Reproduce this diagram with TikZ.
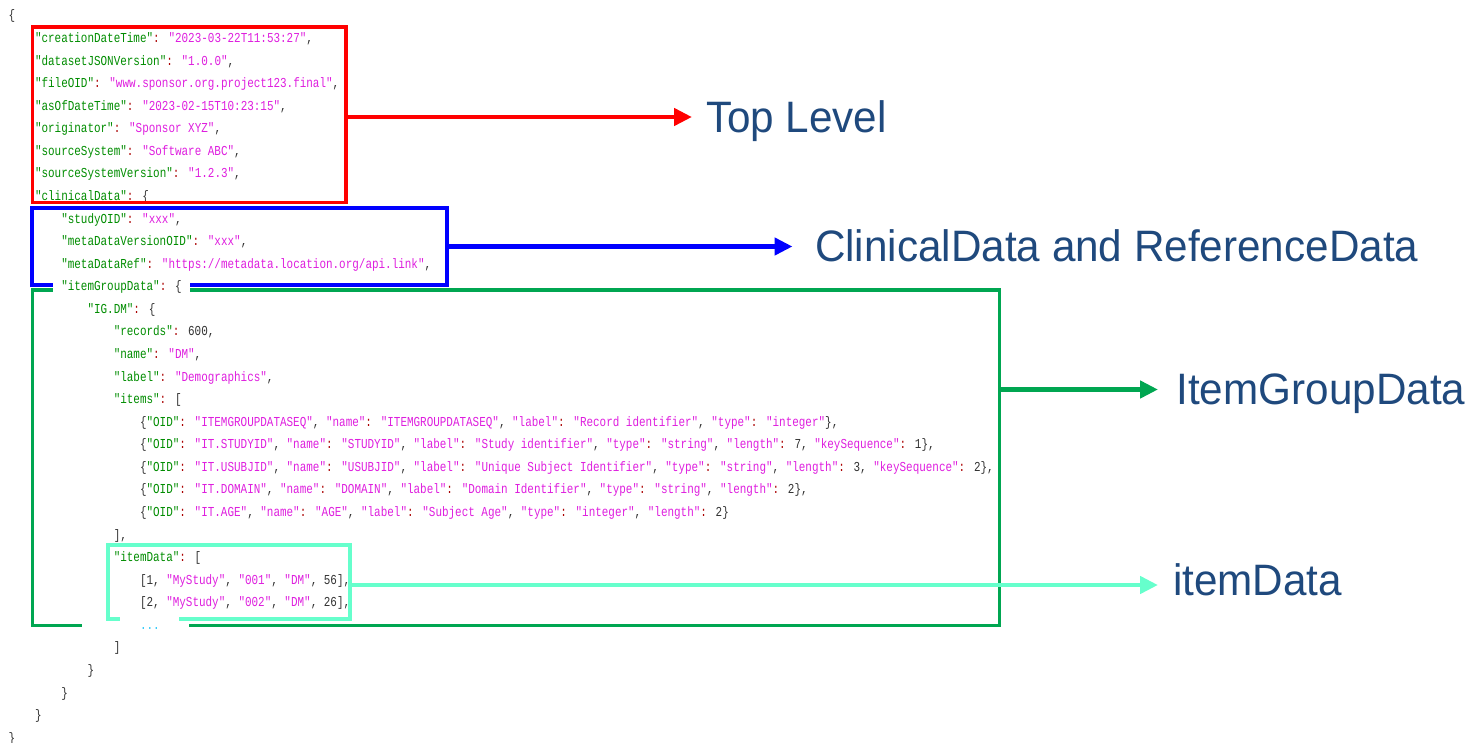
\documentclass[tikz,border=0pt]{standalone}
\usepackage{fontspec}
\setmainfont{Liberation Sans}
\newfontfamily\codefont[FakeStretch=0.8]{Liberation Mono}
\newfontfamily\labelfont[FakeStretch=0.96]{Liberation Sans}
\usetikzlibrary{arrows.meta}
\definecolor{keygreen}{RGB}{0,140,0}
\definecolor{strmag}{RGB}{222,30,222}
\definecolor{coloncol}{RGB}{170,0,0}
\definecolor{punct}{RGB}{50,50,50}
\definecolor{dotcol}{RGB}{40,200,250}
\definecolor{labelblue}{RGB}{31,73,125}
\definecolor{boxred}{RGB}{255,0,0}
\definecolor{boxblue}{RGB}{0,0,255}
\definecolor{boxgreen}{RGB}{0,166,81}
\definecolor{boxcyan}{RGB}{102,255,204}
\newcommand{\jk}[1]{\textcolor{keygreen}{#1}}
\newcommand{\js}[1]{\textcolor{strmag}{#1}}
\newcommand{\jc}{\textcolor{coloncol}{:}}
\tikzset{
  code/.style={anchor=base west, inner sep=0pt, outer sep=0pt,
    font=\codefont\fontsize{13.68}{16}\selectfont, text=punct},
  lbl/.style={anchor=west, inner sep=0pt, outer sep=0pt, text height=30.3pt,
    text depth=0pt, font=\labelfont\fontsize{44}{50}\selectfont, text=labelblue},
  frame/.style={draw, line width=3.8pt, anchor=north west, inner sep=0pt, outer sep=0pt},
  arr/.style={line width=4.5pt, -{Triangle[length=18pt,width=17pt]}}
}
\begin{document}
\begin{tikzpicture}[x=1pt,y=-1pt]
\useasboundingbox (0,0) rectangle (1470,742);
% code lines
\node[code] (l0) at (8.75,19.93) {\{};
\node[code] (l1) at (35,42.5) {\jk{"creationDateTime"}\jc{} \js{"2023-03-22T11:53:27"},};
\node[code] (l2) at (35,65.07) {\jk{"datasetJSONVersion"}\jc{} \js{"1.0.0"},};
\node[code] (l3) at (35,87.64) {\jk{"fileOID"}\jc{} \js{"www.sponsor.org.project123.final"},};
\node[code] (l4) at (35,110.21) {\jk{"asOfDateTime"}\jc{} \js{"2023-02-15T10:23:15"},};
\node[code] (l5) at (35,132.78) {\jk{"originator"}\jc{} \js{"Sponsor XYZ"},};
\node[code] (l6) at (35,155.35) {\jk{"sourceSystem"}\jc{} \js{"Software ABC"},};
\node[code] (l7) at (35,177.92) {\jk{"sourceSystemVersion"}\jc{} \js{"1.2.3"},};
\node[code] (l8) at (35,200.49) {\jk{"clinicalData"}\jc{} \{};
\node[code] (l9) at (61.25,223.06) {\jk{"studyOID"}\jc{} \js{"xxx"},};
\node[code] (l10) at (61.25,245.63) {\jk{"metaDataVersionOID"}\jc{} \js{"xxx"},};
\node[code] (l11) at (61.25,268.2) {\jk{"metaDataRef"}\jc{} \js{"https://metadata.location.org/api.link"},};
\node[code] (l13) at (87.5,313.34) {\jk{"IG.DM"}\jc{} \{};
\node[code] (l14) at (113.75,335.91) {\jk{"records"}\jc{} 600,};
\node[code] (l15) at (113.75,358.48) {\jk{"name"}\jc{} \js{"DM"},};
\node[code] (l16) at (113.75,381.05) {\jk{"label"}\jc{} \js{"Demographics"},};
\node[code] (l17) at (113.75,403.62) {\jk{"items"}\jc{} [};
\node[code] (l18) at (140,426.19) {\{\jk{"OID"}\jc{} \js{"ITEMGROUPDATASEQ"}, \js{"name"}\jc{} \js{"ITEMGROUPDATASEQ"}, \js{"label"}\jc{} \js{"Record identifier"}, \js{"type"}\jc{} \js{"integer"}\},};
\node[code] (l19) at (140,448.76) {\{\jk{"OID"}\jc{} \js{"IT.STUDYID"}, \js{"name"}\jc{} \js{"STUDYID"}, \js{"label"}\jc{} \js{"Study identifier"}, \js{"type"}\jc{} \js{"string"}, \js{"length"}\jc{} 7, \js{"keySequence"}\jc{} 1\},};
\node[code] (l20) at (140,471.33) {\{\jk{"OID"}\jc{} \js{"IT.USUBJID"}, \js{"name"}\jc{} \js{"USUBJID"}, \js{"label"}\jc{} \js{"Unique Subject Identifier"}, \js{"type"}\jc{} \js{"string"}, \js{"length"}\jc{} 3, \js{"keySequence"}\jc{} 2\},};
\node[code] (l21) at (140,493.9) {\{\jk{"OID"}\jc{} \js{"IT.DOMAIN"}, \js{"name"}\jc{} \js{"DOMAIN"}, \js{"label"}\jc{} \js{"Domain Identifier"}, \js{"type"}\jc{} \js{"string"}, \js{"length"}\jc{} 2\},};
\node[code] (l22) at (140,516.47) {\{\jk{"OID"}\jc{} \js{"IT.AGE"}, \js{"name"}\jc{} \js{"AGE"}, \js{"label"}\jc{} \js{"Subject Age"}, \js{"type"}\jc{} \js{"integer"}, \js{"length"}\jc{} 2\}};
\node[code] (l23) at (113.75,539.04) {],};
\node[code] (l24) at (113.75,561.61) {\jk{"itemData"}\jc{} [};
\node[code] (l25) at (140,584.18) {[1, \js{"MyStudy"}, \js{"001"}, \js{"DM"}, 56],};
\node[code] (l26) at (140,606.75) {[2, \js{"MyStudy"}, \js{"002"}, \js{"DM"}, 26],};
\node[code] (l28) at (113.75,651.89) {]};
\node[code] (l29) at (87.5,674.46) {\}};
\node[code] (l30) at (61.25,697.03) {\}};
\node[code] (l31) at (35,719.6) {\}};
\node[code] (l32) at (8.75,742.17) {\}};
% frames
\node[frame, draw=boxred, minimum width=313.5pt, minimum height=175.5pt] (redbox) at (32.5,27) {};
\node[frame, draw=boxblue, minimum width=414.7pt, minimum height=76.7pt] (bluebox) at (32,208.3) {};
\node[frame, draw=boxgreen, minimum width=967pt, minimum height=335.5pt] (greenbox) at (32.5,290) {};
\fill[white] (82,621) rectangle (189,630);
\node[frame, draw=boxcyan, minimum width=242pt, minimum height=74.3pt] (cyanbox) at (108,545) {};
\fill[white] (120,615) rectangle (179,623.5);
% lines drawn over the frames
\node[code, fill=white, inner xsep=8.3pt, inner ysep=3pt] (l12) at (52.95,290.77) {\jk{"itemGroupData"}\jc{} \{};
\node[code, text=dotcol] (l27) at (140,629.32) {...};
% labels
\node[lbl] (top) at (706,117) {Top Level};
\node[lbl] (clin) at (815,246.5) {ClinicalData and ReferenceData};
\node[lbl] (igd) at (1176.5,389.5) {ItemGroupData};
\node[lbl] (itd) at (1173,580) {itemData};
% arrows
\draw[arr, boxred] (redbox.east |- top.west) -- ([xshift=-14pt]top.west);
\draw[arr, boxblue] (bluebox.east |- clin.west) -- ([xshift=-22.5pt]clin.west);
\draw[arr, boxgreen] (greenbox.east |- igd.west) -- ([xshift=-18.5pt]igd.west);
\draw[arr, boxcyan] ([yshift=-5pt]cyanbox.east |- itd.west) -- ([xshift=-15pt,yshift=-5pt]itd.west);
\end{tikzpicture}
\end{document}
